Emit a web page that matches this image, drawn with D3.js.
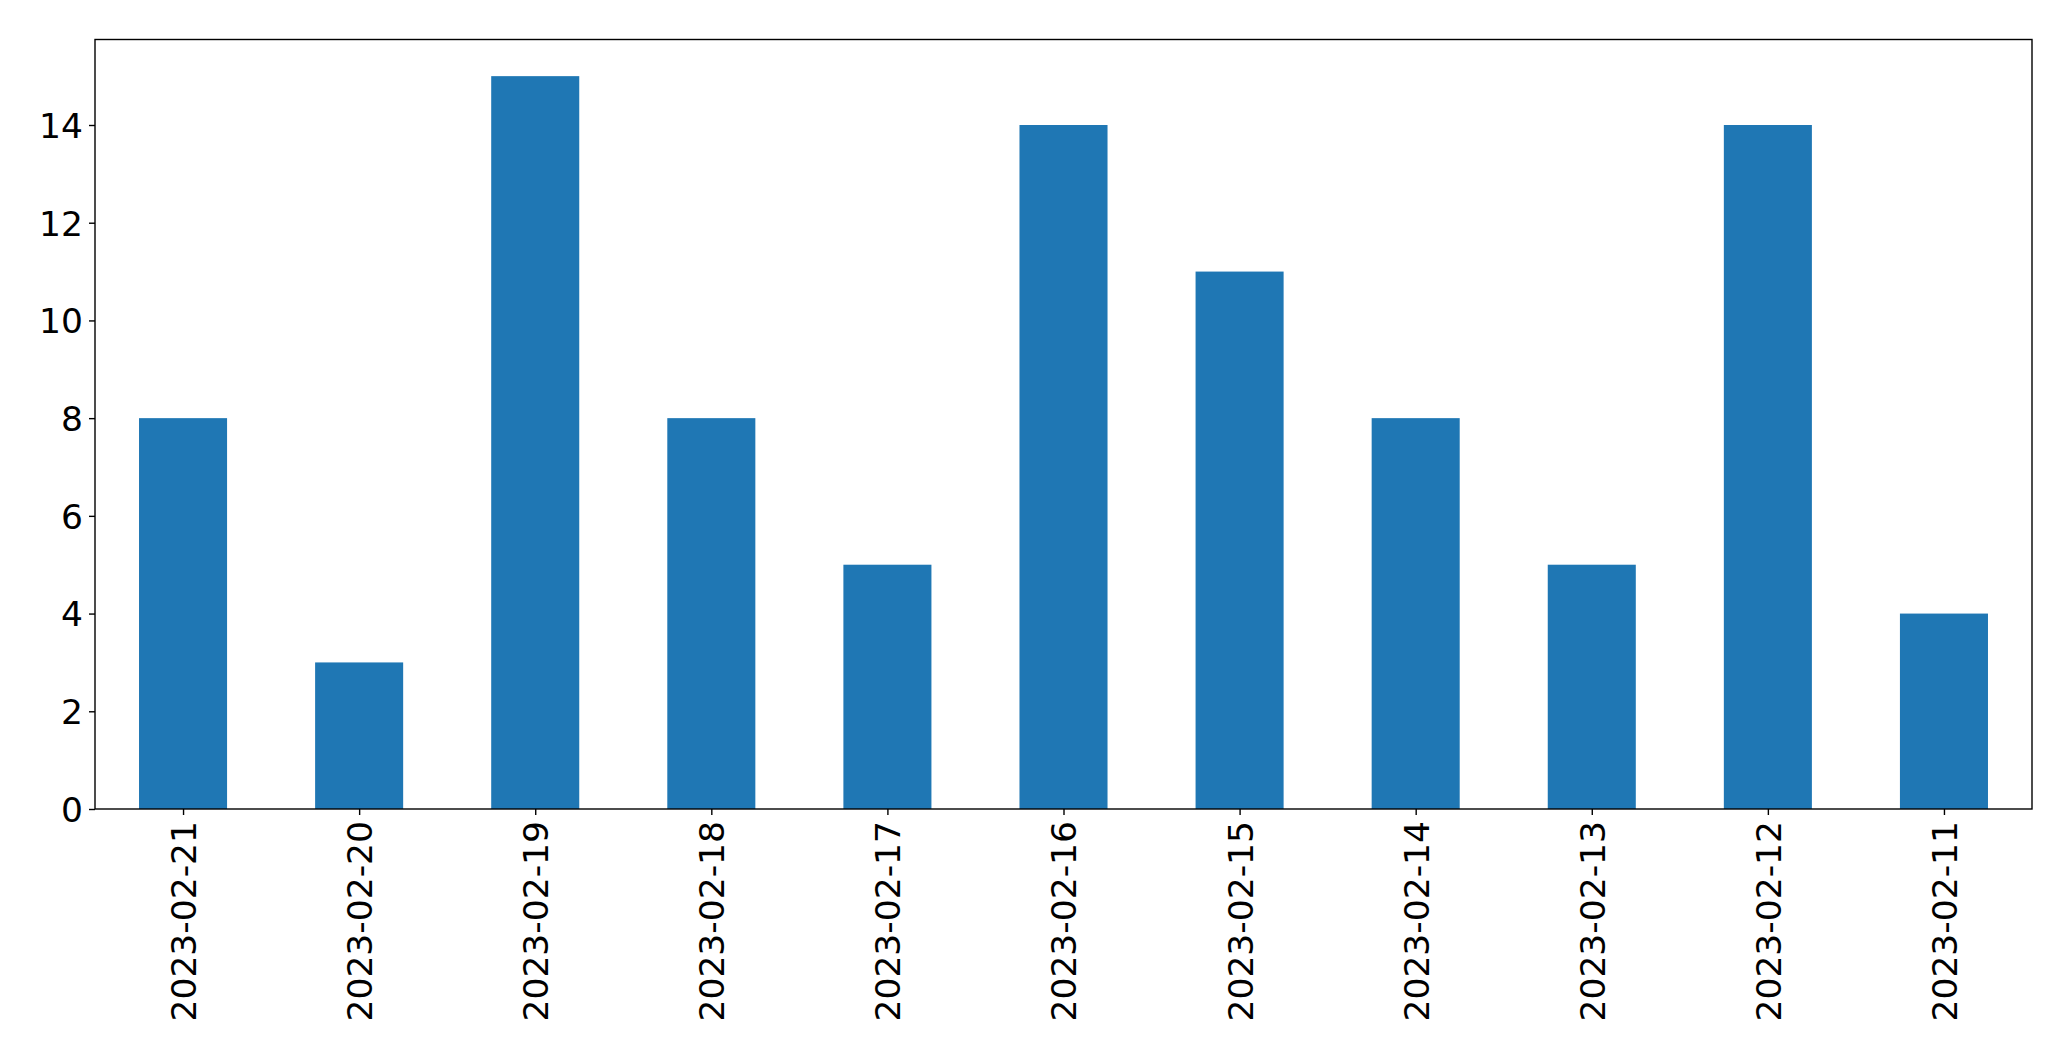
<!DOCTYPE html>
<html>
<head>
<meta charset="utf-8">
<script src="https://cdn.jsdelivr.net/npm/d3@7"></script>
<style>
  html, body { margin: 0; padding: 0; background: #fff; }
  svg { display: block; }
  text { font-family: "DejaVu Sans", sans-serif; fill: #000; }
</style>
</head>
<body>
<script>
const categories = ["2023-02-21","2023-02-20","2023-02-19","2023-02-18","2023-02-17","2023-02-16","2023-02-15","2023-02-14","2023-02-13","2023-02-12","2023-02-11"];
const values = [8, 3, 15, 8, 5, 14, 11, 8, 5, 14, 4];
const yTicks = [0, 2, 4, 6, 8, 10, 12, 14];

(function () {
const W = 2071, H = 1061;
const mLeft = 95, mRight = 2032, mTop = 39.5, mBottom = 809;
const fontSize = 34.5, tickLen = 6, pad = 6;

const svg = d3.select("body").append("svg").attr("width", W).attr("height", H);

const x = d3.scaleLinear().domain([-0.5, categories.length - 0.5]).range([mLeft, mRight]);
const yMax = d3.max(values) * 1.05;
const y = d3.scaleLinear().domain([0, yMax]).range([mBottom, mTop]);

// bars
svg.append("g").selectAll("rect").data(values).join("rect")
  .attr("x", (d, i) => x(i - 0.25))
  .attr("width", (d, i) => x(i + 0.25) - x(i - 0.25))
  .attr("y", d => y(d))
  .attr("height", d => y(0) - y(d))
  .attr("fill", "#1f77b4");

// y axis
const yAxis = d3.axisLeft(y).tickValues(yTicks).tickSize(tickLen).tickPadding(pad).tickFormat(d3.format("d"));
const gy = svg.append("g").attr("transform", `translate(${mLeft},0)`).call(yAxis);
gy.select(".domain").remove();
gy.selectAll("line").attr("stroke", "#000").attr("stroke-width", 1.4);
gy.selectAll("text").style("font-size", fontSize + "px").attr("font-family", "DejaVu Sans").attr("dy", "0.36em");

// x axis
const xAxis = d3.axisBottom(x).tickValues(d3.range(categories.length)).tickSize(tickLen).tickPadding(pad).tickFormat(i => categories[i]);
const gx = svg.append("g").attr("transform", `translate(0,${mBottom})`).call(xAxis);
gx.select(".domain").remove();
gx.selectAll("line").attr("stroke", "#000").attr("stroke-width", 1.4);
gx.selectAll("text")
  .style("font-size", fontSize + "px")
  .attr("font-family", "DejaVu Sans")
  .attr("text-anchor", "end")
  .attr("transform", `translate(0,${tickLen + pad}) rotate(-90)`)
  .attr("x", 0).attr("y", 0).attr("dy", "0.36em");

// frame
svg.append("rect")
  .attr("x", mLeft).attr("y", mTop)
  .attr("width", mRight - mLeft).attr("height", mBottom - mTop)
  .attr("fill", "none").attr("stroke", "#000").attr("stroke-width", 1.4);
})();
</script>
</body>
</html>
